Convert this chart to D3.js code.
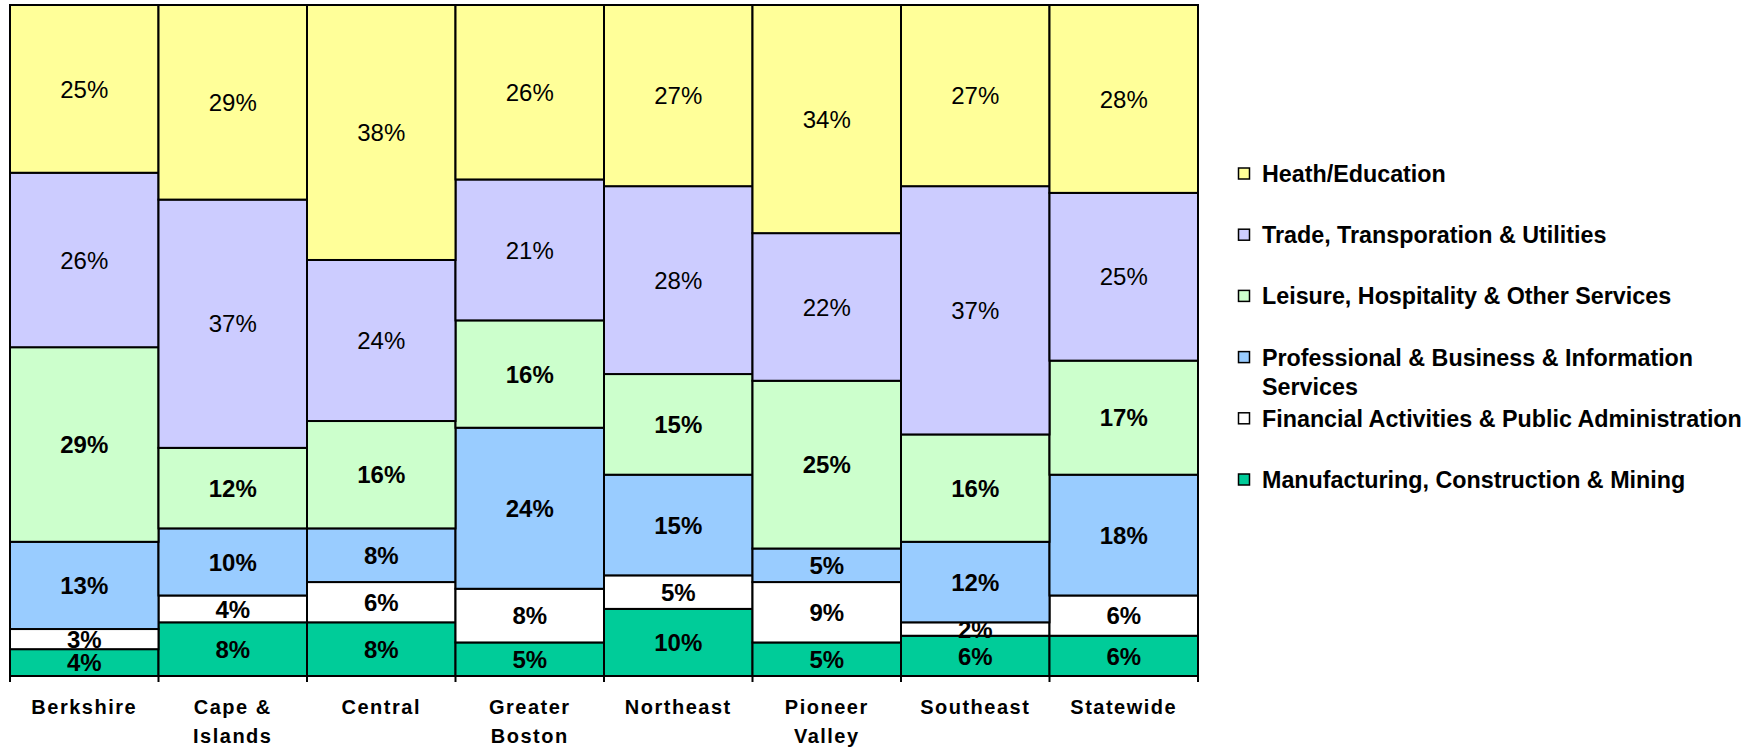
<!DOCTYPE html>
<html>
<head>
<meta charset="utf-8">
<script src="https://cdn.jsdelivr.net/npm/d3@7"></script>
<style>
  body { margin: 0; background: #fff; }
  text { font-family: "Liberation Sans", Arial, sans-serif; fill: #000; }
  .xlabel { font-size: 20px; font-weight: bold; letter-spacing: 1.5px; }
  .legend text { font-size: 23.3px; font-weight: bold; }
  .seg-label { font-size: 24px; }
</style>
</head>
<body>
<div id="chart"></div>
<script>
// regions along the x axis
const regions = ['Berkshire', 'Cape & Islands', 'Central', 'Greater Boston', 'Northeast', 'Pioneer Valley', 'Southeast', 'Statewide'];

// share of employment (%) per sector, one value per region
const manufacturing = [4, 8, 8, 5, 10, 5, 6, 6];
const financial = [3, 4, 6, 8, 5, 9, 2, 6];
const professional = [13, 10, 8, 24, 15, 5, 12, 18];
const leisure = [29, 12, 16, 16, 15, 25, 16, 17];
const trade = [26, 37, 24, 21, 28, 22, 37, 25];
const health = [25, 29, 38, 26, 27, 34, 27, 28];

// bottom to top
const sectors = [
  { key: 'mfg', name: 'Manufacturing, Construction & Mining', values: manufacturing, color: '#00CC99', bold: true },
  { key: 'fin', name: 'Financial Activities & Public Administration', values: financial, color: '#FFFFFF', bold: true },
  { key: 'prof', name: 'Professional & Business & Information Services', values: professional, color: '#99CCFF', bold: true },
  { key: 'leis', name: 'Leisure, Hospitality & Other Services', values: leisure, color: '#CCFFCC', bold: true },
  { key: 'trade', name: 'Trade, Transporation & Utilities', values: trade, color: '#CCCCFF', bold: false },
  { key: 'health', name: 'Heath/Education', values: health, color: '#FFFF99', bold: false }
];

const width = 1762, height = 749;
const margin = { top: 5, left: 10, right: 564, bottom: 73 };
const chartW = width - margin.left - margin.right;
const chartH = height - margin.top - margin.bottom;

const rows = regions.map((r, i) => {
  const row = { region: r };
  sectors.forEach(s => { row[s.key] = s.values[i]; });
  return row;
});

const stack = d3.stack()
  .keys(sectors.map(s => s.key))
  .offset(d3.stackOffsetExpand);
const series = stack(rows);

const x = d3.scaleBand().domain(regions).range([0, chartW]).padding(0);
const y = d3.scaleLinear().domain([0, 1]).range([chartH, 0]);

const svg = d3.select('#chart').append('svg')
  .attr('width', width)
  .attr('height', height);

const chart = svg.append('g')
  .attr('transform', `translate(${margin.left},${margin.top})`);

const layers = chart.selectAll('.layer')
  .data(series)
  .enter()
  .append('g')
  .attr('class', 'layer')
  .attr('fill', (d, i) => sectors[i].color);

layers.selectAll('rect')
  .data(d => d)
  .enter()
  .append('rect')
  .attr('x', d => x(d.data.region))
  .attr('y', d => y(d[1]))
  .attr('width', x.bandwidth())
  .attr('height', d => y(d[0]) - y(d[1]))
  .attr('stroke', '#000')
  .attr('stroke-width', 2);

layers.each(function (s, i) {
  const sec = sectors[i];
  d3.select(this).selectAll('.seg-label')
    .data(s)
    .enter()
    .append('text')
    .attr('class', 'seg-label')
    .attr('x', d => x(d.data.region) + x.bandwidth() / 2)
    .attr('y', d => (y(d[0]) + y(d[1])) / 2)
    .attr('dy', '0.36em')
    .attr('text-anchor', 'middle')
    .style('font-weight', sec.bold ? 'bold' : 'normal')
    .text(d => d.data[sec.key] + '%');
});

// x axis: line + ticks at category boundaries
const axis = chart.append('g')
  .attr('transform', `translate(0,${chartH})`);
axis.append('line')
  .attr('x1', 0).attr('x2', chartW)
  .attr('stroke', '#000').attr('stroke-width', 2);
axis.selectAll('.tick')
  .data(regions.map(r => x(r)).concat([chartW]))
  .enter()
  .append('line')
  .attr('x1', d => d).attr('x2', d => d)
  .attr('y1', 0).attr('y2', 6)
  .attr('stroke', '#000').attr('stroke-width', 2);

const xl = axis.selectAll('.xlabel')
  .data(regions)
  .enter()
  .append('text')
  .attr('class', 'xlabel')
  .attr('text-anchor', 'middle')
  .attr('transform', d => `translate(${x(d) + x.bandwidth() / 2},38)`);

xl.each(function (d) {
  const words = d.split(' ');
  const lines = words.length > 1 ? [words.slice(0, -1).join(' '), words[words.length - 1]] : [d];
  d3.select(this).selectAll('tspan')
    .data(lines)
    .enter()
    .append('tspan')
    .attr('x', 0)
    .attr('y', (l, i) => i * 29)
    .text(l => l);
});

// legend, top to bottom
const legendItems = sectors.slice().reverse();
const ly = d3.scalePoint()
  .domain(legendItems.map(s => s.key))
  .range([174, 480]);

const legend = svg.append('g').attr('class', 'legend');
const li = legend.selectAll('g')
  .data(legendItems)
  .enter()
  .append('g')
  .attr('transform', d => `translate(1238,${ly(d.key)})`);

li.append('rect')
  .attr('x', 0.5).attr('y', -6)
  .attr('width', 11).attr('height', 11)
  .attr('fill', d => d.color)
  .attr('stroke', '#000').attr('stroke-width', 1.5);

li.append('text')
  .attr('x', 24)
  .attr('y', 8)
  .each(function (d) {
    const t = d3.select(this);
    if (d.key === 'prof') {
      t.append('tspan').attr('x', 24).attr('y', 8).text('Professional & Business & Information');
      t.append('tspan').attr('x', 24).attr('y', 37).text('Services');
    } else {
      t.text(d.name);
    }
  });
</script>
</body>
</html>
